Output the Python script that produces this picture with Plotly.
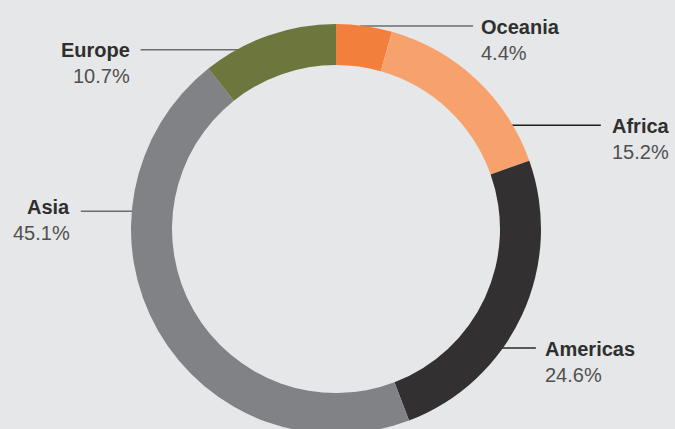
import math
import plotly.graph_objects as go

# ---- data ----
regions = ["Oceania", "Africa", "Americas", "Asia", "Europe"]
shares = [4.4, 15.2, 24.6, 45.1, 10.7]
colors = ["#F2803C", "#F7A16D", "#323031", "#818285", "#6C763D"]

# ---- label / leader-line styling (layout, not data) ----
leader_angle = [7.9, 59.6, 125.5, 275.0, 331.0]   # deg clockwise from 12 o'clock
leader_len = [109, 88, 33, 51, 96]                 # px
leader_color = ["#6d6d6d", "#1e1e1e", "#2a2a2a", "#6d6d6d", "#6d6d6d"]
label_dy = [1, 1, 1, -4, 0]                        # px shift of label text vs line
label_dx = [0, 3, 1, 0, 0]

W, H = 675, 434
CX, CY, R = 336, 229, 205
BG = "#E6E7E8"

fig = go.Figure(go.Pie(
    labels=regions, values=shares, sort=False, direction="clockwise", rotation=0,
    hole=0.80, marker=dict(colors=colors, line=dict(width=0)),
    textinfo="none", hoverinfo="label+percent", showlegend=False,
    domain=dict(x=[(CX - R) / W, (CX + R) / W], y=[0, 2 * R / H]),
))

def px(x):
    return x / W

def py(y):
    return 1 - y / H

total = sum(shares)
shapes, annotations = [], []
for name, val, ang, ln, lc, dy, dx in zip(regions, shares, leader_angle, leader_len,
                                          leader_color, label_dy, label_dx):
    a = math.radians(ang)
    ax = CX + R * math.sin(a)
    ay = CY - R * math.cos(a)
    right = math.sin(a) >= 0
    x0 = ax - 4 if right else ax + 4
    x1 = ax + ln if right else ax - ln
    shapes.append(dict(type="line", xref="paper", yref="paper", layer="below",
                       x0=px(x0), x1=px(x1), y0=py(ay), y1=py(ay),
                       line=dict(color=lc, width=1.5)))
    tx = (x1 + 6 if right else x1 - 9) + dx
    anchor = "left" if right else "right"
    annotations.append(dict(xref="paper", yref="paper", x=px(tx), y=py(ay + dy),
                            text=f"<b>{name}</b>", showarrow=False, xanchor=anchor, yanchor="middle",
                            font=dict(family="Liberation Sans, Arial, sans-serif", size=20, color="#2f2f2f")))
    annotations.append(dict(xref="paper", yref="paper", x=px(tx), y=py(ay + dy + 26),
                            text=f"{val / total * 100:.1f}%", showarrow=False, xanchor=anchor, yanchor="middle",
                            font=dict(family="Liberation Sans, Arial, sans-serif", size=20, color="#505050")))

fig.update_layout(
    width=W, height=H, margin=dict(l=0, r=0, t=0, b=0),
    paper_bgcolor=BG, plot_bgcolor=BG,
    shapes=shapes, annotations=annotations,
)

fig.write_html("out.html", config={"displayModeBar": False},
               post_script="document.body.style.margin='0';document.body.style.overflow='hidden';"
                           "document.documentElement.style.overflow='hidden';")
